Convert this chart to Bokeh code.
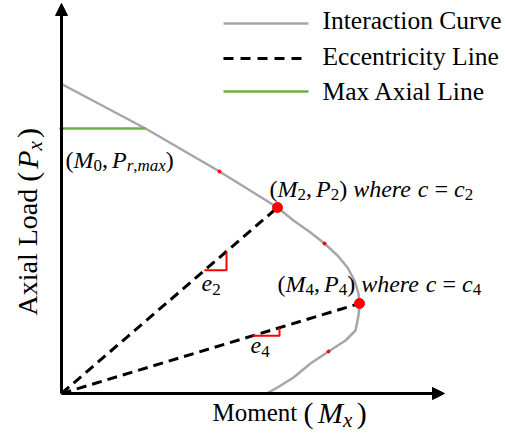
import numpy as np
from bokeh.plotting import figure
from bokeh.models import Range1d, Arrow, NormalHead
from bokeh.core.properties import value
from bokeh.embed import file_html
from bokeh.resources import INLINE

# P-M interaction diagram (abstract moment / axial load units)
curve_moment = [1, 84, 158, 216, 232, 249, 263, 276, 286, 293, 297, 298, 297, 294, 284, 267, 249, 232, 216, 205]
curve_axial = [309, 265, 222, 186, 173, 161, 150, 138, 126, 113, 100, 90, 78, 63, 53, 42, 30, 16, 6, 0]

# maximum axial load line
p_rmax = 265
m_at_pmax = 84

# points reached by the eccentricity lines
m2, p2 = 216, 186
m4, p4 = 298, 90

# small reference ticks on the curve
tick_moment = [0, 158, 263, 267]
tick_axial = [265, 222, 150, 42]

# eccentricity slope markers: (start moment, run)
e2_marker = (143, 22)
e4_marker = (191, 27)

# axis extents
m_axis_end = 383
p_axis_end = 390

legend_labels = ["Interaction Curve", "Eccentricity Line", "Max Axial Line"]

GRAY = "#A6A6A6"
GREEN = "#70AD47"
RED = "#FF0000"
FONT = "Liberation Serif"

W, H = 505, 443
p = figure(width=W, height=H, x_range=Range1d(-61, 444), y_range=Range1d(-50, 393),
           output_backend="svg", toolbar_location=None, min_border=0)
p.axis.visible = False
p.grid.visible = False
p.outline_line_color = None
p.background_fill_color = "white"

ux = (p.x_range.end - p.x_range.start) / W   # data units per pixel
uy = (p.y_range.end - p.y_range.start) / H
RAISE = 8  # pixels the alphabetic baseline is lifted by

# Times-compatible advance widths (1/1000 em); other glyphs default to 500
REG_W = {'(': 333, ')': 333, ',': 250, ' ': 250, '=': 564, '0': 500, '2': 500, '4': 500,
         'A': 722, 'x': 500, 'i': 278, 'a': 444, 'l': 278, 'L': 611, 'o': 500, 'd': 500,
         'M': 889, 'm': 778, 'e': 444, 'n': 500, 't': 278, 'r': 333}
ITA_W = {'M': 833, 'P': 611, 'w': 667, 'h': 500, 'e': 444, 'r': 389, 'c': 444, 'x': 444,
         'm': 722, 'a': 500, ',': 250}


def math_text(pieces, x0, y0, angle=0.0, drop=6):
    """Lay out (text, italic, size_px) pieces along a baseline; subscripts are pieces with a
    negative size (dropped below the baseline). A float piece is a gap in pixels."""
    dx, dy = np.cos(angle), np.sin(angle)
    downx, downy = np.sin(angle), -np.cos(angle)
    groups = {}
    pos = 0.0
    for piece in pieces:
        if isinstance(piece, (int, float)):
            pos += piece
            continue
        s, italic, size = piece
        sub = size < 0
        size = abs(size)
        d = (drop if sub else 0) - RAISE
        x = x0 + (pos * dx + d * downx) * ux
        y = y0 + (pos * dy + d * downy) * uy
        g = groups.setdefault((italic, size), dict(x=[], y=[], text=[]))
        g["x"].append(x)
        g["y"].append(y)
        g["text"].append(s)
        table = ITA_W if italic else REG_W
        pos += sum(table.get(c, 500) for c in s) * size / 1000
    for (italic, size), g in groups.items():
        p.text(x=g["x"], y=g["y"], text=g["text"], angle=angle,
               text_font=value(FONT), text_font_style="italic" if italic else "normal",
               text_font_size=f"{size}px", text_color="black",
               text_baseline="alphabetic", text_align="left")


# interaction curve
p.line(curve_moment, curve_axial, line_color=GRAY, line_width=2.5)

# max axial line
p.line([0, m_at_pmax], [p_rmax, p_rmax], line_color=GREEN, line_width=2.5)

# eccentricity lines
for m, pv in [(m2, p2), (m4, p4)]:
    p.line([0, m], [0, pv], line_color="black", line_width=3, line_dash="10 6")

# slope markers
for (m_start, run), (m, pv) in [(e2_marker, (m2, p2)), (e4_marker, (m4, p4))]:
    slope = pv / m
    xs = [m_start, m_start + run, m_start + run]
    ys = [slope * m_start, slope * m_start, slope * (m_start + run)]
    p.line(xs, ys, line_color=RED, line_width=2)

# points
p.scatter(tick_moment, tick_axial, size=3, color=RED)
p.scatter([m2, m4], [p2, p4], size=10, color=RED)

# axes with arrow heads
p.add_layout(Arrow(end=NormalHead(size=12, fill_color="black", line_color="black", line_width=1),
                   x_start=0, y_start=0, x_end=m_axis_end, y_end=0,
                   line_color="black", line_width=3))
p.add_layout(Arrow(end=NormalHead(size=12, fill_color="black", line_color="black", line_width=1),
                   x_start=0, y_start=0, x_end=0, y_end=p_axis_end,
                   line_color="black", line_width=3))

# legend
legend_y = [370, 335, 302]
legend_styles = [dict(line_color=GRAY, line_width=2.5),
                 dict(line_color="black", line_width=3, line_dash="10 7"),
                 dict(line_color=GREEN, line_width=2.5)]
for ly, st in zip(legend_y, legend_styles):
    p.line([162, 247], [ly, ly], **st)
for lbl, base in zip(legend_labels, [365, 329, 294]):
    math_text([(lbl, False, 25.5)], 261, base)

# point annotations
M = 24
S = -17
math_text([("(", False, M), ("M", True, M), ("0", False, S), (",", False, M), 4.0,
           ("P", True, M), ("r", True, S), (",", False, S), ("max", True, S), (")", False, M)],
          0 + 4, p_rmax - 39)
math_text([("(", False, M), ("M", True, M), ("2", False, S), (",", False, M), 4.0,
           ("P", True, M), ("2", False, S), (")", False, M), 6.0, ("where", True, M), 6.0,
           ("c", True, M), 6.0, ("=", False, M), 6.0, ("c", True, M), ("2", False, S)],
          m2 - 8, p2 + 11)
math_text([("(", False, M), ("M", True, M), ("4", False, S), (",", False, M), 4.0,
           ("P", True, M), ("4", False, S), (")", False, M), 6.0, ("where", True, M), 6.0,
           ("c", True, M), 6.0, ("=", False, M), 6.0, ("c", True, M), ("4", False, S)],
          m4 - 82, p4 + 12)
math_text([("e", True, M), ("2", False, S)], 140, 102)
math_text([("e", True, M), ("4", False, S)], 189, 40)

# axis titles
math_text([("Moment ", False, 25), ("(", False, 30), 4.5, ("M", True, 30), ("x", True, -21), 4.5,
           (")", False, 30)], 151, -27, drop=7)
math_text([("Axial Load ", False, 28), ("(", False, 30), 3.0, ("P", True, 30), ("x", True, -21), 3.0,
           (")", False, 30)], -26, 78, angle=np.pi / 2, drop=7)

open("out.html", "w").write(file_html(p, INLINE))
